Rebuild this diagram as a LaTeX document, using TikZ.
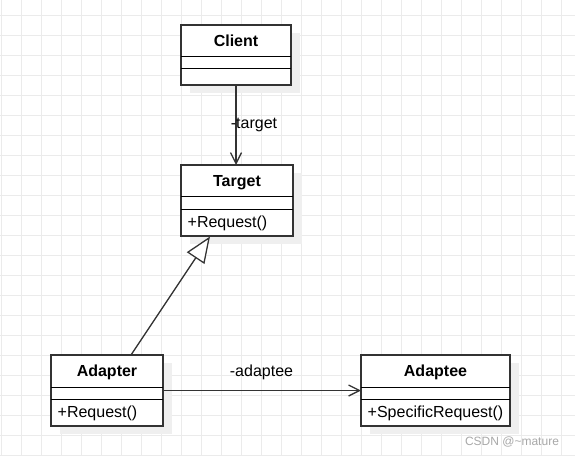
\documentclass[tikz,border=0pt]{standalone}
\usepackage{fontspec}
\setmainfont{Liberation Sans}
\usetikzlibrary{arrows.meta,calc}
\definecolor{gridc}{HTML}{EBEBEB}
\definecolor{shadowc}{HTML}{EFEFEF}
\definecolor{linec}{HTML}{333333}
\definecolor{wmc}{HTML}{A8A8A8}
\tikzset{
  gridline/.style={draw=gridc, line width=1pt},
  classbox/.style={draw=linec, line width=1.5pt, fill=white, inner sep=0pt, outer sep=0pt},
  divline/.style={draw=black, line width=1pt},
  titletext/.style={font=\fontsize{16}{19}\selectfont\bfseries, anchor=base, inner sep=0pt},
  methodtext/.style={font=\fontsize{16}{19}\selectfont, anchor=base west, inner sep=0pt},
  labeltext/.style={font=\fontsize{16}{19}\selectfont, anchor=base, inner sep=0pt},
  assoc/.style={draw=linec, line width=1.3pt, -{Straight Barb[length=11pt, width=11pt, line width=1.3pt]}},
  inherit/.style={draw=linec, line width=1.3pt, -{Triangle[open, fill=white, length=26pt, width=21pt, line width=1.3pt]}},
  wmtext/.style={font=\fontsize{12}{14}\selectfont, text=wmc, anchor=base, inner sep=0pt}
}
% name, x1, y1, x2, y2, divider1, divider2, title, method
\newcommand\umlclassbox[9]{%
  \fill[shadowc] ({#2+9},{#3+8}) rectangle ({#4+9},{#5+8});
  \node[classbox, minimum width={(#4-#2)*1pt}, minimum height={(#5-#3)*1pt}] (#1) at ({(#2+#4)/2},{(#3+#5)/2}) {};
  \draw[divline] ($(#1.north west)+(0,{#6-#3})$) -- ($(#1.north east)+(0,{#6-#3})$);
  \draw[divline] ($(#1.north west)+(0,{#7-#3})$) -- ($(#1.north east)+(0,{#7-#3})$);
  \node[titletext] (#1-title) at ($(#1.north)+(0,21)$) {#8};
  \if\relax\detokenize{#9}\relax\else
    \node[methodtext] (#1-method) at ($(#1.north west)+(6.5,{#7-#3+18})$) {#9};
  \fi
}
\begin{document}
\begin{tikzpicture}[x=1pt,y=-1pt]
  \useasboundingbox (0,0) rectangle (575,455);
  \fill[white] (0,0) rectangle (575,455);
  \foreach \i in {0,...,28} \draw[gridline] ({1.7+20*\i},0) -- ({1.7+20*\i},455);
  \foreach \j in {0,...,22} \draw[gridline] (0,{15+20*\j}) -- (575,{15+20*\j});

  \umlclassbox{client}{181}{25}{291}{85}{56}{68.5}{Client}{}
  \umlclassbox{target}{181}{165}{293}{236}{196}{209}{Target}{+Request()}
  \umlclassbox{adapter}{51}{355}{163}{426}{387}{399}{Adapter}{+Request()}
  \umlclassbox{adaptee}{361}{355}{510}{426}{387}{399}{Adaptee}{+SpecificRequest()}

  \draw[assoc] (client.south) -- (client.south |- target.north);
  \node[labeltext] (lbltarget) at (254,128.3) {-target};

  \draw[assoc] (adapter.east) -- (adaptee.west);
  \node[labeltext] (lbladaptee) at (261.5,376.5) {-adaptee};

  \coordinate (inhS) at (131,355);
  \coordinate (inhE) at (210,236.5);
  \draw[inherit] (inhS) -- (inhE);

  \node[wmtext] (wm) at (512,445) {CSDN @\textasciitilde mature};
\end{tikzpicture}
\end{document}
